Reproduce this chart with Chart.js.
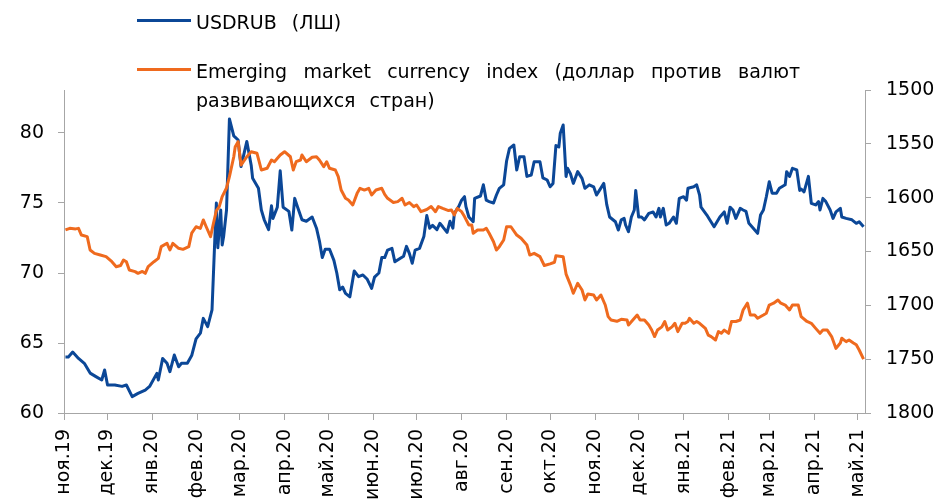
<!DOCTYPE html>
<html lang="ru">
<head>
  <meta charset="UTF-8" />
  <title>USDRUB и EM currency index</title>
  <script src="https://cdn.jsdelivr.net/npm/chart.js"></script>
  <style>
    html, body { margin: 0; padding: 0; background: #fff; }
    .wrap { position: relative; width: 940px; height: 504px; font-family: "DejaVu Sans", Verdana, sans-serif; color: #000; }
    canvas { position: absolute; left: 0; top: 0; }
    .legend-item { position: absolute; font-size: 19px; line-height: 29px; white-space: nowrap; }
    .legend-line { position: absolute; width: 54px; height: 3px; }
    .justified { display: block; width: 604px; text-align: justify; text-align-last: justify; }
  </style>
</head>
<body>
  <div class="wrap">
    <canvas id="fxChart" width="940" height="504"></canvas>

    <div class="legend-line" style="left:137px; top:19px; background:#0b4797;"></div>
    <div class="legend-item" style="left:196px; top:8px; word-spacing:9px;">USDRUB (ЛШ)</div>

    <div class="legend-line" style="left:137px; top:68px; background:#ef6a1e;"></div>
    <div class="legend-item" style="left:196px; top:57px;">
      <span class="justified">Emerging market currency index (доллар против валют</span>
      <span style="word-spacing:8px;">развивающихся стран)</span>
    </div>
  </div>

<script>
  // x positions are days since 1 Nov 2019
  const monthDays = [0, 30, 61, 92, 121, 152, 182, 213, 243, 274, 305, 335, 366, 396, 427, 458, 486, 517, 547];
  const monthLabels = ["ноя.19", "дек.19", "янв.20", "фев.20", "мар.20", "апр.20", "май.20", "июн.20", "июл.20", "авг.20",
                       "сен.20", "окт.20", "ноя.20", "дек.20", "янв.21", "фев.21", "мар.21", "апр.21", "май.21"];

  const rubTicks = [60, 65, 70, 75, 80];
  const emTicks = [1500, 1550, 1600, 1650, 1700, 1750, 1800];

  // USDRUB (left axis)
  const rubDays = [
    1, 3, 6, 10, 14, 18, 22, 26, 28, 30,
    35, 40, 43, 47, 51, 56, 59, 64, 65, 68,
    71, 73, 76, 79, 81, 85, 88, 91, 94, 96,
    99, 102, 104, 105, 106, 108, 109, 110, 112, 114,
    117, 120, 122, 126, 129, 130, 134, 136, 138, 141,
    143, 144, 147, 149, 151, 155, 157, 159, 161, 164,
    167, 171, 174, 176, 178, 180, 183, 186, 188, 190,
    192, 194, 197, 200, 203, 206, 209, 212, 214, 217,
    219, 221, 223, 226, 228, 231, 234, 236, 238, 240,
    242, 245, 248, 250, 252, 254, 257, 259, 261, 264,
    266, 268, 269, 272, 274, 276, 277, 279, 282, 283,
    287, 289, 291, 293, 296, 298, 300, 303, 305, 307,
    310, 312, 314, 317, 319, 322, 324, 328, 330, 333,
    335, 337, 339, 341, 342, 344, 346, 347, 349, 351,
    354, 357, 359, 362, 365, 367, 369, 372, 374, 376,
    380, 382, 384, 386, 387, 389, 391, 393, 394, 396,
    398, 400, 403, 406, 408, 410, 411, 413, 415, 417,
    420, 422, 424, 427, 429, 430, 434, 436, 438, 439,
    443, 445, 448, 452, 455, 457, 459, 461, 463, 466,
    468, 470, 472, 475, 478, 480, 482, 484, 486, 488,
    491, 493, 497, 498, 500, 502, 505, 507, 508, 510,
    513, 515, 518, 520, 521, 523, 525, 528, 530, 532,
    535, 536, 539, 543, 546, 548, 551
  ];
  const rubRate = [
    64.0, 64.0, 64.35, 63.9, 63.55, 62.85, 62.6, 62.36, 63.07, 62.0,
    62.0, 61.9, 62.0, 61.17, 61.4, 61.64, 61.9, 62.83, 62.36, 63.9,
    63.55, 62.95, 64.14, 63.3, 63.55, 63.55, 64.1, 65.3, 65.7, 66.76,
    66.17, 67.36, 72.6, 75.0, 71.8, 74.5, 72.0, 72.6, 74.5, 81.0,
    79.8, 79.5, 77.6, 79.4, 77.7, 76.76, 76.05, 74.5, 73.8, 73.1,
    74.8, 73.9, 74.7, 77.3, 74.7, 74.4, 73.07, 75.33, 74.7, 73.8,
    73.7, 74.0, 73.2, 72.3, 71.1, 71.7, 71.7, 70.9, 70.0, 68.8,
    69.0, 68.55, 68.3, 70.15, 69.74, 69.86, 69.55, 68.9, 69.7, 70.0,
    71.1, 71.1, 71.64, 71.76, 70.8, 71.0, 71.2, 71.9, 71.4, 70.7,
    71.64, 71.76, 72.6, 74.1, 73.2, 73.4, 73.1, 73.55, 73.3, 72.9,
    73.7, 73.2, 74.26, 74.74, 75.2, 75.45, 74.74, 74.0, 73.67, 75.33,
    75.5, 76.3, 75.2, 75.1, 75.0, 75.57, 76.05, 76.3, 78.0, 78.9,
    79.14, 77.36, 78.3, 78.3, 76.9, 77.0, 77.95, 77.95, 76.8, 76.64,
    76.16, 76.4, 79.1, 79.0, 79.98, 80.57, 76.9, 77.48, 77.1, 76.4,
    77.24, 76.76, 76.05, 76.3, 76.16, 75.57, 75.9, 76.4, 74.9, 74.0,
    73.66, 73.07, 73.8, 73.9, 73.43, 72.95, 74.0, 74.5, 75.9, 74.0,
    74.0, 73.8, 74.26, 74.36, 74.0, 74.62, 74.0, 74.62, 73.43, 73.55,
    74.0, 73.55, 75.33, 75.45, 75.2, 76.05, 76.16, 76.3, 75.57, 74.7,
    74.14, 73.8, 73.3, 74.0, 74.36, 73.55, 74.7, 74.5, 73.9, 74.62,
    74.5, 74.4, 73.55, 73.2, 72.83, 74.14, 74.5, 75.45, 76.52, 75.7,
    75.7, 76.05, 76.3, 77.24, 76.9, 77.48, 77.36, 75.9, 76.0, 75.8,
    76.9, 74.98, 74.86, 75.1, 74.5, 75.33, 75.1, 74.5, 73.9, 74.36,
    74.62, 74.0, 73.9, 73.8, 73.55, 73.66, 73.3
  ];

  // Emerging market currency index (right axis, reversed)
  const emDays = [
    1, 4, 8, 10, 12, 16, 18, 21, 25, 29,
    33, 36, 39, 41, 43, 45, 49, 51, 54, 56,
    58, 62, 65, 67, 71, 73, 75, 79, 82, 86,
    88, 91, 94, 96, 98, 101, 103, 105, 107, 109,
    112, 114, 117, 118, 120, 122, 126, 129, 133, 136,
    140, 143, 145, 149, 152, 156, 158, 160, 163, 164,
    167, 171, 174, 176, 179, 181, 183, 187, 189, 191,
    194, 196, 199, 202, 204, 207, 210, 212, 215, 219,
    221, 223, 227, 230, 233, 235, 238, 241, 243, 246,
    250, 253, 256, 258, 261, 265, 267, 269, 271, 274,
    276, 279, 281, 282, 285, 289, 291, 293, 296, 298,
    300, 303, 305, 308, 312, 315, 319, 321, 324, 328,
    331, 335, 338, 339, 344, 346, 349, 351, 354, 357,
    359, 361, 365, 367, 370, 373, 375, 377, 381, 384,
    388, 389, 392, 395, 397, 400, 403, 405, 407, 409,
    412, 414, 416, 419, 421, 423, 426, 428, 430, 431,
    434, 436, 438, 442, 444, 446, 449, 451, 453, 455,
    458, 460, 463, 466, 468, 471, 473, 476, 478, 482,
    484, 486, 489, 492, 494, 497, 500, 502, 506, 508,
    512, 515, 518, 521, 523, 526, 529, 532, 535, 536,
    539, 541, 544, 546, 548, 551
  ];
  const emIndex = [
    1630, 1628.5, 1629, 1628.5, 1634.7, 1636.2, 1648.6, 1651.7, 1653.3, 1654.8,
    1659.5, 1664.1, 1663, 1657.9, 1659.5, 1667.2, 1668.7, 1670.3, 1668.5, 1670.3,
    1664.1, 1659.5, 1656.4, 1645.5, 1642.4, 1648.6, 1642.4, 1647, 1648, 1645.5,
    1633, 1627, 1628.5, 1620.7, 1627, 1636.2, 1623.8, 1612, 1608.4, 1599,
    1591, 1580.5, 1562, 1552.7, 1548, 1569.7, 1562, 1557.3, 1558.8, 1574.3,
    1572.7, 1565, 1566.6, 1560.4, 1557.3, 1562, 1574.3, 1566.6, 1565, 1560.4,
    1566.6, 1562.5, 1562, 1565, 1571.2, 1566.6, 1572.7, 1574.3, 1580.5, 1592.9,
    1600.6, 1602.2, 1606.8, 1596, 1591.3, 1592.9, 1591.3, 1597.5, 1592.9, 1591.3,
    1597, 1600.6, 1604.5, 1603.7, 1600.6, 1606.8, 1604.5, 1608.3, 1606.8, 1613,
    1611, 1608.3, 1613, 1608.3, 1610, 1612, 1611.5, 1616, 1610, 1613,
    1617.6, 1625.4, 1625.4, 1633, 1630, 1630, 1628.4, 1633, 1640.9, 1648.6,
    1645.5, 1639.3, 1627, 1627, 1634.7, 1637.7, 1644, 1653.3, 1651.7, 1654.8,
    1663, 1661.5, 1660, 1654, 1654.8, 1671, 1681, 1688.8, 1679.5, 1685.8,
    1695, 1689.5, 1690.4, 1695, 1690.4, 1699.7, 1710.5, 1713.6, 1714.8, 1713,
    1713.6, 1718.3, 1713.6, 1709, 1713.6, 1713.6, 1718.3, 1722.9, 1729, 1722.9,
    1720, 1715, 1722.9, 1720, 1716.7, 1724.4, 1716.7, 1716.7, 1715, 1712,
    1716.7, 1715, 1716.7, 1721.4, 1727.6, 1729, 1732.2, 1724.4, 1726, 1723,
    1726, 1715, 1715, 1713.6, 1704.3, 1698, 1709, 1709, 1712, 1709,
    1707.4, 1699.7, 1698, 1695, 1698, 1699.7, 1704.3, 1699.7, 1699.7, 1710.5,
    1715, 1716.7, 1721.4, 1726, 1723, 1723, 1729, 1740, 1735, 1730.6,
    1733.7, 1732.2, 1735, 1736.7, 1741.5, 1750
  ];

  document.addEventListener("DOMContentLoaded", () => {
    const axisColor = "#a6a6a6";
    const tickFont = { family: "'DejaVu Sans', Verdana, sans-serif", size: 19 };

    const ctx = document.getElementById("fxChart").getContext("2d");
    new Chart(ctx, {
      type: "line",
      data: {
        datasets: [
          {
            label: "USDRUB (ЛШ)",
            data: rubDays.map((d, i) => ({ x: d, y: rubRate[i] })),
            yAxisID: "yRub",
            borderColor: "#0b4797",
            borderWidth: 3,
            pointRadius: 0,
            tension: 0,
            borderJoinStyle: "round",
            order: 1
          },
          {
            label: "Emerging market currency index (доллар против валют развивающихся стран)",
            data: emDays.map((d, i) => ({ x: d, y: emIndex[i] })),
            yAxisID: "yEm",
            borderColor: "#ef6a1e",
            borderWidth: 3,
            pointRadius: 0,
            tension: 0,
            borderJoinStyle: "round",
            order: 0
          }
        ]
      },
      options: {
        responsive: false,
        animation: false,
        layout: { padding: { top: 90, left: 0, right: 0, bottom: 0 } },
        plugins: {
          legend: { display: false },
          tooltip: { enabled: false }
        },
        scales: {
          x: {
            type: "linear",
            min: 0,
            max: 552,
            afterBuildTicks: scale => { scale.ticks = monthDays.map(v => ({ value: v })); },
            afterFit: scale => { scale.height = 91; },
            border: { display: true, color: axisColor, width: 1 },
            grid: { drawOnChartArea: false, drawTicks: true, tickLength: 7, color: axisColor },
            ticks: {
              autoSkip: false,
              minRotation: 90,
              maxRotation: 90,
              padding: 9,
              color: "#000",
              font: tickFont,
              callback: (value, index) => monthLabels[index]
            }
          },
          yRub: {
            type: "linear",
            position: "left",
            min: 60,
            max: 60 + 323 / 14,
            afterBuildTicks: scale => { scale.ticks = rubTicks.map(v => ({ value: v })); },
            afterFit: scale => { scale.width = 64; },
            border: { display: true, color: axisColor, width: 1 },
            grid: { drawOnChartArea: false, drawTicks: true, tickLength: 6, color: axisColor },
            ticks: { padding: 14, color: "#000", font: tickFont, callback: value => String(value) }
          },
          yEm: {
            type: "linear",
            position: "right",
            reverse: true,
            min: 1500,
            max: 1800,
            afterBuildTicks: scale => { scale.ticks = emTicks.map(v => ({ value: v })); },
            afterFit: scale => { scale.width = 75; },
            border: { display: true, color: axisColor, width: 1 },
            grid: { drawOnChartArea: false, drawTicks: true, tickLength: 6, color: axisColor },
            ticks: { padding: 15, color: "#000", font: tickFont, callback: value => String(value) }
          }
        }
      }
    });
  });
</script>
</body>
</html>
